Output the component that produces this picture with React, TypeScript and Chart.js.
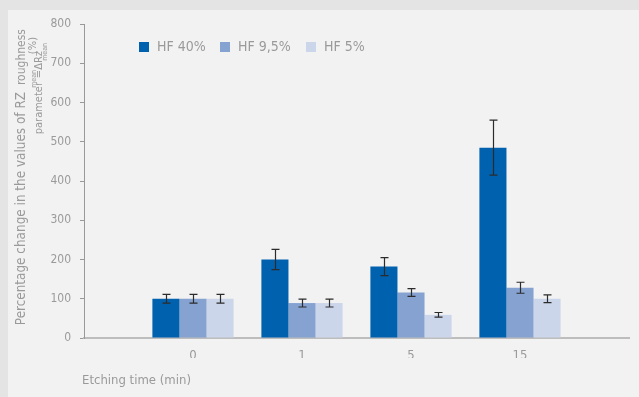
import React, { useEffect, useRef } from 'react';
import { Chart, registerables } from 'chart.js';
Chart.register(...registerables);

const categories = ['', '0', '1', '5', '15', ''];
const seriesNames = ['HF 40%', 'HF 9,5%', 'HF 5%'];
const seriesColors = ['#0061ae', '#85a2d1', '#ccd6ea'];
const hf40 = [null, 100, 200, 182, 485, null];
const hf40Err = [null, 11, 26, 23, 70, null];
const hf95 = [null, 100, 89, 116, 128, null];
const hf95Err = [null, 11, 10, 10, 14, null];
const hf5 = [null, 100, 89, 59, 100, null];
const hf5Err = [null, 11, 10, 6, 10, null];
const yMin = 0;
const yMax = 800;
const yStep = 100;
const xTitle = 'Etching time (min)';
const yTitleParts = [
  'Percentage change in the values of RZ',
  'roughness',
  'parameter',
  'mean',
  '=ΔRz',
  'mean',
  '(%)',
];

const FONT = "'Liberation Sans Narrow', 'DejaVu Sans Condensed', 'Roboto', sans-serif";
const TEXT = '#9a9a9a';

const bgPlugin = {
  id: 'bg',
  beforeDraw(chart: any) {
    const { ctx, width, height } = chart;
    ctx.save();
    ctx.fillStyle = '#e4e4e4';
    ctx.fillRect(0, 0, width, height);
    ctx.fillStyle = '#f2f2f2';
    ctx.fillRect(8, 10, width - 8, height - 10);
    ctx.restore();
  },
};

const errorPlugin = {
  id: 'errbars',
  afterDatasetsDraw(chart: any) {
    const { ctx } = chart;
    const yScale = chart.scales.y;
    chart.data.datasets.forEach((ds: any, di: number) => {
      const meta = chart.getDatasetMeta(di);
      meta.data.forEach((el: any, i: number) => {
        const v = ds.data[i];
        const e = ds.errors[i];
        if (v == null || e == null) return;
        const x = Math.round(el.x) + 0.5;
        const yt = yScale.getPixelForValue(v + e);
        const yb = yScale.getPixelForValue(v - e);
        ctx.save();
        ctx.strokeStyle = '#2b2b2b';
        ctx.lineWidth = 1.2;
        ctx.beginPath();
        ctx.moveTo(x, yt);
        ctx.lineTo(x, yb);
        ctx.moveTo(x - 4, yt);
        ctx.lineTo(x + 4, yt);
        ctx.moveTo(x - 4, yb);
        ctx.lineTo(x + 4, yb);
        ctx.stroke();
        ctx.restore();
      });
    });
  },
};

// draws rotated text (reading bottom to top) whose end sits at screen y = endY, centred on screen x = cx
function drawVert(ctx: any, text: string, cx: number, endY: number, size: number) {
  ctx.save();
  ctx.translate(cx, endY);
  ctx.rotate(-Math.PI / 2);
  ctx.fillStyle = TEXT;
  ctx.textBaseline = 'middle';
  ctx.textAlign = 'right';
  ctx.font = `${size}px ${FONT}`;
  ctx.fillText(text, 0, 0);
  ctx.restore();
}

const textPlugin = {
  id: 'texts',
  afterDraw(chart: any) {
    const { ctx } = chart;
    // legend
    const legendX = [139, 220, 306];
    ctx.save();
    ctx.textBaseline = 'middle';
    ctx.textAlign = 'left';
    ctx.font = `14px ${FONT}`;
    seriesNames.forEach((n, i) => {
      ctx.fillStyle = seriesColors[i];
      ctx.fillRect(legendX[i], 42, 10, 10);
      ctx.fillStyle = TEXT;
      ctx.fillText(n, legendX[i] + 18, 47.5);
    });
    // x title
    ctx.font = `13px ${FONT}`;
    ctx.fillText(xTitle, 82, 381);
    ctx.restore();
    // y title
    drawVert(ctx, yTitleParts[0], 22, 92, 13.4);
    drawVert(ctx, yTitleParts[1], 22, 29, 12);
    drawVert(ctx, yTitleParts[2], 39, 82, 11);
    drawVert(ctx, yTitleParts[3], 34, 70, 7);
    drawVert(ctx, yTitleParts[4], 39, 51, 11);
    drawVert(ctx, yTitleParts[5], 45, 43, 7);
    drawVert(ctx, yTitleParts[6], 33, 37, 11);
  },
};

export default function App() {
  const ref = useRef<HTMLCanvasElement>(null);
  useEffect(() => {
    document.body.style.margin = '0';
    const mk = (label: string, data: any[], errors: any[], color: string) => ({
      label,
      data,
      errors,
      backgroundColor: color,
      borderWidth: 0,
      barPercentage: 1,
      categoryPercentage: 0.745,
    });
    const chart = new Chart(ref.current as HTMLCanvasElement, {
      type: 'bar',
      data: {
        labels: categories,
        datasets: [
          mk(seriesNames[0], hf40, hf40Err, seriesColors[0]),
          mk(seriesNames[1], hf95, hf95Err, seriesColors[1]),
          mk(seriesNames[2], hf5, hf5Err, seriesColors[2]),
        ] as any,
      },
      options: {
        animation: false,
        responsive: false,
        layout: { padding: { left: 0, top: 24, right: 10, bottom: 39 } },
        plugins: { legend: { display: false }, tooltip: { enabled: false } },
        scales: {
          x: {
            offset: false,
            grid: { display: false, drawTicks: false },
            border: { display: true, color: '#bdbdbd', width: 2 },
            ticks: { color: TEXT, padding: 10, font: { family: FONT, size: 13 }, autoSkip: false, maxRotation: 0 },
            afterFit: (s: any) => { s.height = 20; },
          },
          y: {
            min: yMin,
            max: yMax,
            ticks: { stepSize: yStep, color: TEXT, padding: 9, font: { family: FONT, size: 12 } },
            grid: { display: true, drawOnChartArea: false, drawTicks: true, tickLength: 4, color: '#999' },
            border: { display: true, color: '#999', width: 1 },
            afterFit: (s: any) => { s.width = 84; },
          },
        },
      },
      plugins: [bgPlugin, errorPlugin, textPlugin],
    });
    return () => chart.destroy();
  }, []);
  return <canvas ref={ref} width={639} height={397} style={{ display: 'block' }} />;
}
